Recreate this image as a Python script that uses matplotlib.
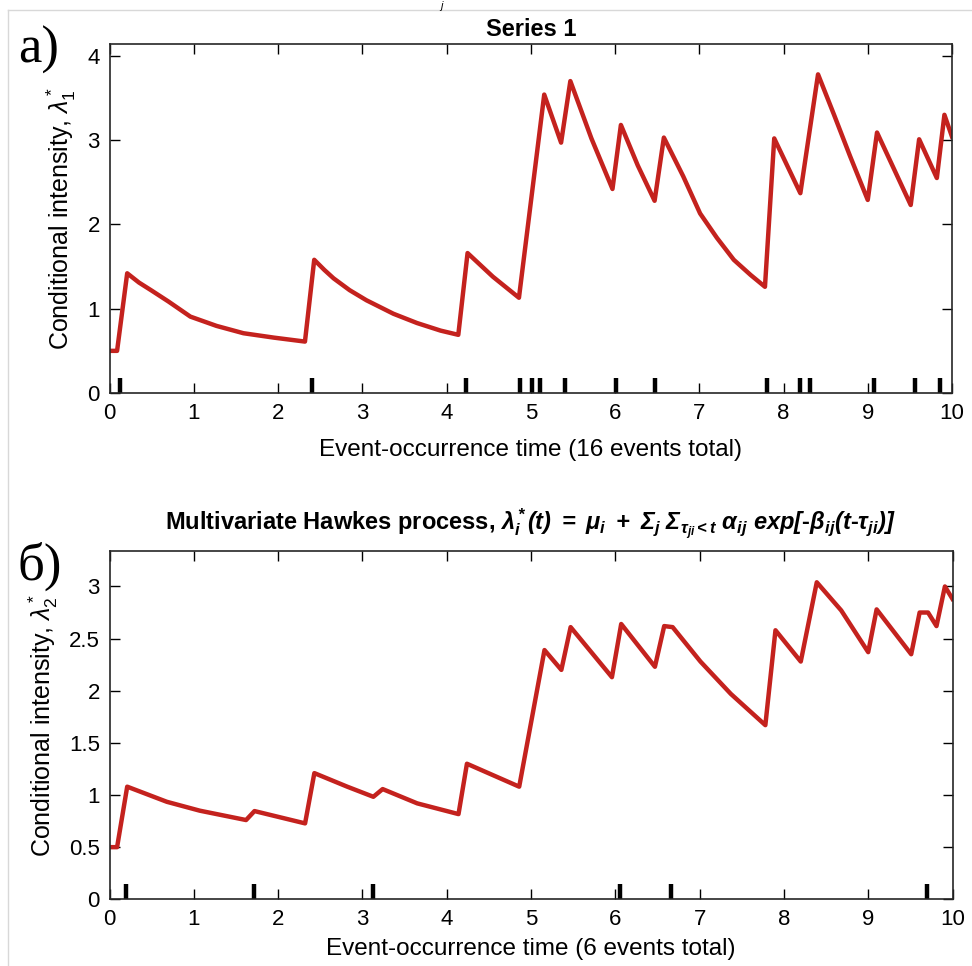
import numpy as np
import matplotlib
matplotlib.use('Agg')
import matplotlib.pyplot as plt
from matplotlib.lines import Line2D

plt.rcParams['font.family'] = ['Liberation Sans', 'DejaVu Sans']
plt.rcParams['mathtext.fontset'] = 'custom'
plt.rcParams['mathtext.rm'] = 'Liberation Sans'
plt.rcParams['mathtext.it'] = 'Liberation Sans:italic'
plt.rcParams['mathtext.bf'] = 'Liberation Sans:bold:italic'

# series 1 intensity (time, value)
t1 = [0.0, 0.09, 0.21, 0.35, 0.50, 0.70, 0.96, 1.27, 1.59, 1.95, 2.32,
      2.43, 2.55, 2.66, 2.85, 3.05, 3.37, 3.65, 3.93, 4.14,
      4.25, 4.55, 4.86, 5.16, 5.36, 5.47, 5.72, 5.97, 6.07, 6.27, 6.47, 6.58,
      6.81, 7.01, 7.21, 7.41, 7.61, 7.78,
      7.89, 8.20, 8.41, 8.60, 8.79, 9.00, 9.11, 9.51, 9.61, 9.82, 9.91, 10.0]
lam1 = [0.50, 0.50, 1.42, 1.31, 1.215, 1.085, 0.906, 0.796, 0.709, 0.657, 0.61,
        1.58, 1.46, 1.36, 1.22, 1.10, 0.94, 0.83, 0.74, 0.69,
        1.66, 1.38, 1.13, 3.54, 2.97, 3.70, 3.02, 2.42, 3.18, 2.70, 2.28, 3.03,
        2.57, 2.13, 1.84, 1.58, 1.40, 1.26,
        3.02, 2.37, 3.78, 3.30, 2.81, 2.29, 3.09, 2.23, 3.01, 2.55, 3.30, 3.04]
ev1 = [0.125, 2.40, 4.23, 4.87, 5.02, 5.11, 5.41, 6.01, 6.48,
       7.81, 8.20, 8.32, 9.08, 9.56, 9.86]

# series 2 intensity
t2 = [0.0, 0.09, 0.21, 0.68, 1.07, 1.62, 1.72, 2.32,
      2.43, 2.82, 3.13, 3.24, 3.65, 4.14,
      4.24, 4.86, 5.16, 5.36, 5.47, 5.96, 6.07, 6.47, 6.58, 6.68,
      7.01, 7.37, 7.78, 7.90, 8.20, 8.39, 8.68, 9.00, 9.10, 9.51,
      9.61, 9.71, 9.81, 9.91, 10.0]
lam2 = [0.50, 0.50, 1.08, 0.935, 0.85, 0.76, 0.846, 0.728,
        1.21, 1.08, 0.983, 1.057, 0.92, 0.817,
        1.30, 1.08, 2.39, 2.20, 2.61, 2.13, 2.64, 2.23, 2.62, 2.61,
        2.28, 1.97, 1.67, 2.58, 2.28, 3.04, 2.77, 2.37, 2.78, 2.35,
        2.75, 2.75, 2.62, 3.00, 2.88]
ev2 = [0.20, 1.72, 3.13, 6.05, 6.66, 9.70]

red = '#C4221E'

fig = plt.figure(figsize=(9.72, 9.66), dpi=100)
W, H = 972, 966
ax1 = fig.add_axes([109.5/W, 1-393/H, 842.5/W, 349/H])
ax2 = fig.add_axes([109.5/W, 1-899.3/H, 843/W, 348.3/H])

def style(ax):
    ax.set_xlim(0, 10)
    ax.set_xticks(range(11))
    ax.tick_params(direction='in', length=7, width=1, top=True, right=True,
                   labelsize=16, pad=7)
    for s in ax.spines.values():
        s.set_linewidth(1.2)
        s.set_color('#262626')

ax1.plot(t1, lam1, color=red, lw=3.2)
ax1.vlines(ev1, 0, 0.18, color='black', lw=3.2)
ax1.set_ylim(0, 4.14)
ax1.set_yticks([0, 1, 2, 3, 4])
style(ax1)
ax1.set_title('Series 1', fontsize=17, fontweight='bold', pad=6)
ax1.set_xlabel('Event-occurrence time (16 events total)', fontsize=17.5, labelpad=11)
ax1.set_ylabel(r'Conditional intensity, $\lambda^*_1$', fontsize=18, labelpad=7)

ax2.plot(t2, lam2, color=red, lw=3.2)
ax2.vlines(ev2, 0, 0.145, color='black', lw=3.2)
ax2.set_ylim(0, 3.34)
ax2.set_yticks([0, 0.5, 1, 1.5, 2, 2.5, 3])
ax2.set_yticklabels(['0', '0.5', '1', '1.5', '2', '2.5', '3'])
style(ax2)
ax2.set_title(r'Multivariate Hawkes process, $\mathbf{\lambda^*_i(t)\ =\ \mu_i\ +\ \Sigma_j\ '
              r'\Sigma_{\tau_{ji}<t}\ \alpha_{ij}\ exp[}$-$\mathbf{\beta_{ij}(t}$-$\mathbf{\tau_{ji})]}$',
              fontsize=17, fontweight='bold', pad=15)
ax2.set_xlabel('Event-occurrence time (6 events total)', fontsize=17.5, labelpad=6)
ax2.set_ylabel(r'Conditional intensity, $\lambda^*_2$', fontsize=18, labelpad=6)

fig.text(18/W, 1-50/H, 'a)', family='Liberation Serif', fontsize=38, va='center')
fig.text(18/W, 1-566/H, 'б)', family='Liberation Serif', fontsize=38, va='center')
fig.text(440/W, 1-1/H, 'j', fontsize=8, style='italic', va='top')

# faint frame of the scanned figure
fig.add_artist(Line2D([8/W, 1], [1-10/H, 1-10/H], transform=fig.transFigure, color='#d8d8d8', lw=1))
fig.add_artist(Line2D([8/W, 8/W], [0, 1-10/H], transform=fig.transFigure, color='#d8d8d8', lw=1))

fig.savefig('out.png', dpi=100)
